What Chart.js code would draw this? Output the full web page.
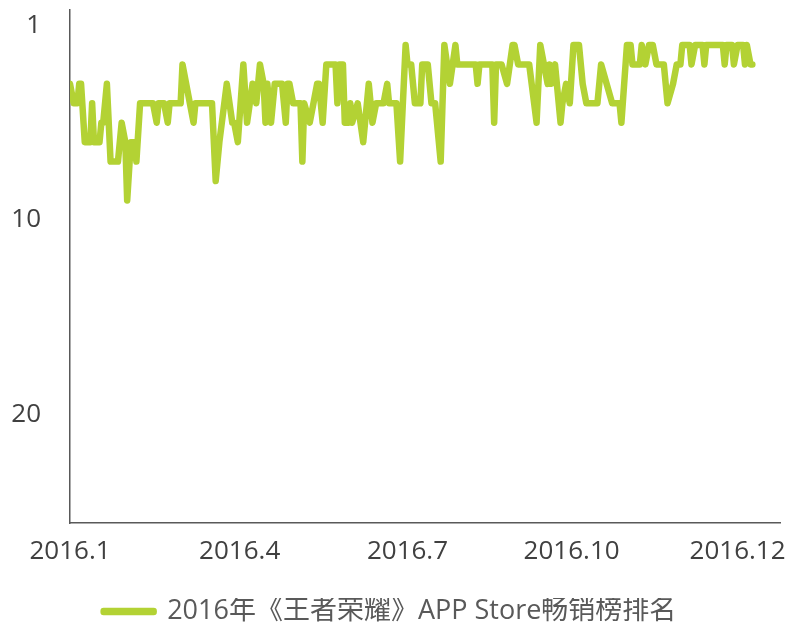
<!DOCTYPE html>
<html lang="zh">
<head>
    <meta charset="UTF-8">
    <title>2016年《王者荣耀》APP Store畅销榜排名</title>
    <script src="https://cdn.jsdelivr.net/npm/chart.js"></script>
    <style>
        html, body { margin: 0; padding: 0; background: #fff; }
        .chart-container { position: relative; width: 792px; height: 624px; }
    </style>
</head>
<body>
    <div class="chart-container">
        <canvas id="rankChart"></canvas>
    </div>

    <script>
        // series name and daily rank readings (day 0 = 2016.1.1)
        const seriesName = '2016年《王者荣耀》APP Store畅销榜排名';
        const days = [
            0, 2, 4, 5, 6, 8, 11, 12, 13, 16, 17, 18, 20, 22, 26, 28, 30, 31, 33, 35,
            36, 38, 45, 47, 48, 51, 53, 54, 60, 61, 63, 65, 67, 68, 77, 79, 81, 85, 88, 89,
            91, 94, 96, 99, 101, 103, 105, 106, 107, 109, 111, 115, 117, 118, 119, 121, 125, 126, 127, 130,
            132, 134, 135, 137, 139, 144, 145, 146, 148, 149, 151, 152, 153, 156, 159, 162, 164, 166, 170, 172,
            173, 177, 179, 182, 183, 185, 187, 190, 191, 194, 196, 198, 201, 203, 206, 209, 210, 220, 221, 222,
            229, 230, 231, 234, 237, 240, 241, 243, 249, 253, 255, 257, 259, 260, 261, 263, 266, 267, 269, 271,
            273, 276, 278, 280, 286, 288, 291, 294, 298, 299, 302, 304, 305, 309, 310, 312, 314, 316, 318, 322,
            324, 327, 329, 331, 332, 336, 337, 339, 343, 344, 345, 354, 355, 356, 359, 360, 362, 365, 366, 367,
            369, 370
        ];
        const ranks = [
            3, 4, 4, 3, 3, 6, 6, 4, 6, 6, 5, 5, 3, 7, 7, 5, 6, 9, 6, 6,
            7, 4, 4, 5, 4, 4, 5, 4, 4, 2, 3, 4, 5, 4, 4, 8, 6, 3, 5, 5,
            6, 2, 5, 3, 4, 2, 3, 5, 3, 5, 3, 3, 5, 3, 3, 4, 4, 7, 4, 5,
            4, 3, 3, 5, 2, 2, 4, 2, 2, 5, 5, 4, 5, 4, 6, 3, 5, 4, 4, 3,
            4, 4, 7, 1, 2, 2, 4, 4, 2, 2, 4, 4, 7, 1, 3, 1, 2, 2, 3, 2,
            2, 5, 2, 2, 3, 1, 1, 2, 2, 5, 1, 2, 3, 2, 3, 2, 5, 4, 3, 4,
            1, 1, 3, 4, 4, 2, 3, 4, 4, 5, 1, 1, 2, 2, 1, 2, 1, 1, 2, 2,
            4, 3, 2, 2, 1, 1, 2, 1, 1, 2, 1, 1, 2, 1, 1, 2, 1, 1, 2, 1,
            2, 2
        ];

        // axis tick positions and their labels
        const tickDays = [0, 92, 183, 272, 362];
        const tickLabels = ['2016.1', '2016.4', '2016.7', '2016.10', '2016.12'];
        const rankTicks = [0, 10, 20];
        const rankTickLabels = ['1', '10', '20'];

        const fontFamily = '"Open Sans", "Noto Sans CJK SC", sans-serif';
        const lineColor = '#b3d234';
        const axisColor = '#595959';

        const ctx = document.getElementById('rankChart').getContext('2d');
        new Chart(ctx, {
            type: 'line',
            data: {
                datasets: [{
                    label: seriesName,
                    data: days.map((d, i) => ({ x: d, y: ranks[i] })),
                    borderColor: lineColor,
                    backgroundColor: lineColor,
                    borderWidth: 6.5,
                    borderJoinStyle: 'round',
                    borderCapStyle: 'round',
                    pointRadius: 0,
                    tension: 0
                }]
            },
            options: {
                responsive: true,
                maintainAspectRatio: false,
                animation: false,
                layout: { padding: { left: 0, right: 12, top: 10, bottom: -11 } },
                scales: {
                    x: {
                        type: 'linear',
                        min: 0,
                        max: 385,
                        grid: { display: false },
                        border: { color: axisColor, width: 1.5 },
                        afterBuildTicks: scale => {
                            scale.ticks = tickDays.map(v => ({ value: v }));
                        },
                        afterFit: scale => {
                            scale.height = 75;
                            scale.paddingLeft = 0;
                            scale.paddingRight = 0;
                        },
                        ticks: {
                            autoSkip: false,
                            maxRotation: 0,
                            padding: 5,
                            color: '#404040',
                            font: { family: fontFamily, size: 26 },
                            callback: v => tickLabels[tickDays.indexOf(v)]
                        }
                    },
                    y: {
                        type: 'linear',
                        reverse: true,
                        min: -0.8,
                        max: 25.6,
                        grid: { display: false },
                        border: { color: axisColor, width: 1.5 },
                        afterBuildTicks: scale => {
                            scale.ticks = rankTicks.map(v => ({ value: v }));
                        },
                        afterFit: scale => {
                            scale.width = 70;
                            scale.paddingTop = 0;
                            scale.paddingBottom = 0;
                        },
                        ticks: {
                            padding: 21,
                            color: '#404040',
                            font: { family: fontFamily, size: 26 },
                            callback: v => rankTickLabels[rankTicks.indexOf(v)]
                        }
                    }
                },
                plugins: {
                    tooltip: { enabled: false },
                    legend: {
                        position: 'bottom',
                        labels: {
                            boxWidth: 50,
                            boxHeight: 1,
                            padding: 0,
                            color: '#595959',
                            font: { family: fontFamily, size: 27 }
                        }
                    }
                }
            }
        });
    </script>
</body>
</html>
